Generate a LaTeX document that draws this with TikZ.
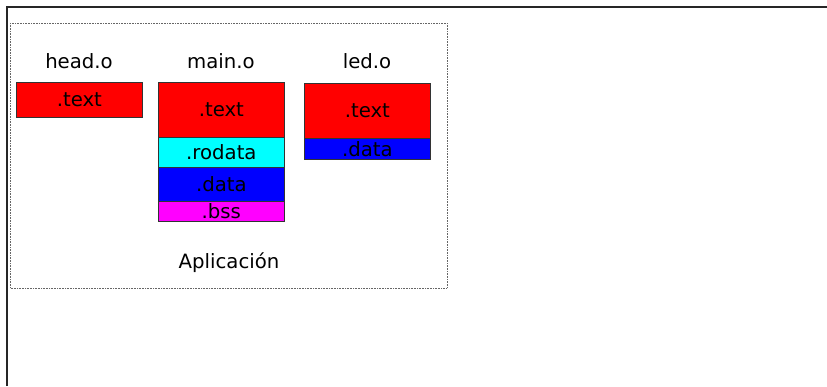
\documentclass[tikz,border=0pt]{standalone}
\usepackage{fontspec}
\setmainfont{DejaVu Sans}
\definecolor{secred}{RGB}{255,0,0}
\definecolor{seccyan}{RGB}{0,255,255}
\definecolor{secblue}{RGB}{0,0,255}
\definecolor{secmagenta}{RGB}{255,0,255}
\begin{document}
\begin{tikzpicture}[x=1pt,y=-1pt,
  lbl/.style={font=\fontsize{19.7}{22}\selectfont, inner sep=0pt},
  sect/.style={draw=black!80, line width=0.7pt, anchor=north west, inner sep=0pt,
    minimum width=126pt, font=\fontsize{19.7}{22}\selectfont, text=black}]
  \useasboundingbox (0,0) rectangle (827,386);
  % outer frame (top and left edges)
  \draw[line width=1.1pt, black!85] (7,386) -- (7,7) -- (827,7);
  % application boundary
  \draw[densely dotted, line width=0.6pt, black!60] (10,23) rectangle (447,288);

  % object file names
  \node[lbl] (headlbl) at (79,61) {head.o};
  \node[lbl] (mainlbl) at (221,61) {main.o};
  \node[lbl] (ledlbl)  at (367,61) {led.o};

  % head.o sections
  \node[sect, fill=secred, minimum height=35pt] (htext) at (16,82) {.text};

  % main.o sections
  \node[sect, fill=secred, minimum height=55pt] (mtext) at (158,82) {.text};
  \node[sect, fill=seccyan, minimum height=30pt] (mrodata) at (158,137) {.rodata};
  \node[sect, fill=secblue, minimum height=34pt] (mdata) at (158,167) {.data};
  \node[sect, fill=secmagenta, minimum height=20pt] (mbss) at (158,201) {.bss};

  % led.o sections
  \node[sect, fill=secred, minimum height=55pt] (ltext) at (304,83) {.text};
  \node[sect, fill=secblue, minimum height=21pt] (ldata) at (304,138) {.data};

  \node[lbl] (app) at (229,263) {Aplicación};
\end{tikzpicture}
\end{document}
